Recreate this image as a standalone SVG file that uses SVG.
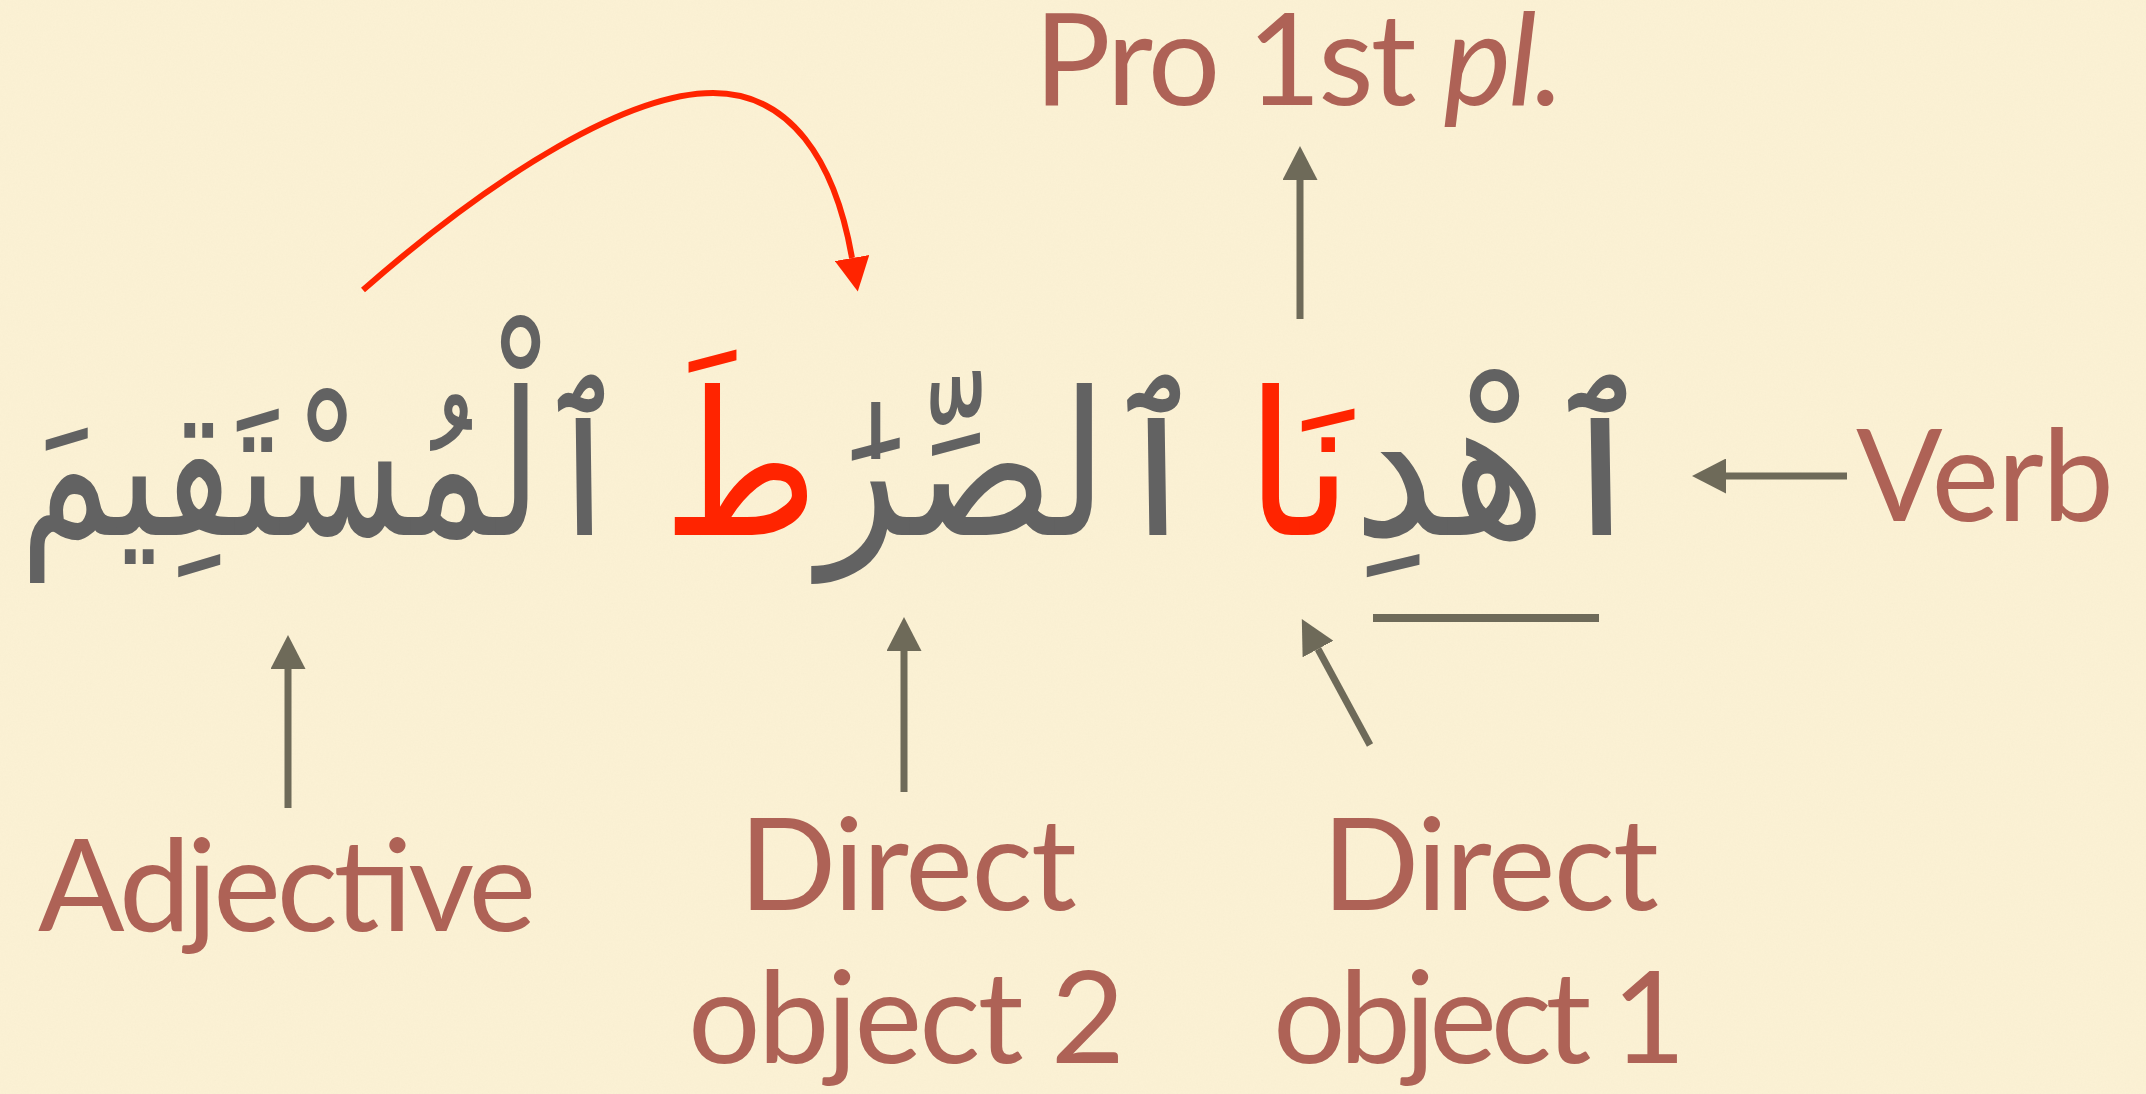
<svg xmlns="http://www.w3.org/2000/svg" width="2146" height="1094" viewBox="0 0 2146 1094">
<style>
.lbl{font-family:Lato,"Open Sans","Liberation Sans",sans-serif;font-size:128px;fill:#AE6256}
.ar{font-family:"DejaVu Sans",sans-serif;font-size:200px;fill:#626262}
.red{fill:#FF2400}
.g{stroke:#6E6A59;stroke-width:7;fill:none}
.r{stroke:#FF2400;stroke-width:6;fill:none}
</style>
<defs>
<marker id="ah" markerUnits="userSpaceOnUse" markerWidth="34" markerHeight="35" refX="0" refY="17.5" orient="auto"><path d="M0,0 L34,17.5 L0,35 z" fill="#6E6A59"/></marker>
<marker id="ahr" markerUnits="userSpaceOnUse" markerWidth="34" markerHeight="35" refX="0" refY="17.5" orient="auto"><path d="M0,0 L34,17.5 L0,35 z" fill="#FF2400"/></marker>
<filter id="paper" x="0" y="0" width="100%" height="100%">
<feTurbulence type="fractalNoise" baseFrequency="0.6" numOctaves="3" seed="4" result="n"/>
<feColorMatrix in="n" type="matrix" values="0 0 0 0 0.75  0 0 0 0 0.68  0 0 0 0 0.5  0 0 0 0.35 -0.1"/>
</filter>
</defs>
<rect width="2146" height="1094" fill="#FBF1D4"/>
<rect width="2146" height="1094" filter="url(#paper)" opacity="0.35"/>
<g id="word-ihdina"><text class="ar" x="1655" y="535" text-anchor="end" textLength="410" lengthAdjust="spacingAndGlyphs">ٱهْدِ<tspan class="red">نَا</tspan></text></g>
<g id="word-sirat"><text class="ar" x="1206" y="535" text-anchor="end" textLength="543" lengthAdjust="spacingAndGlyphs">ٱلصِّرَٰ<tspan class="red">طَ</tspan></text></g>
<g id="word-mustaqim"><text class="ar" x="627" y="535" text-anchor="end" textLength="607" lengthAdjust="spacingAndGlyphs">ٱلْمُسْتَقِيمَ</text></g>
<g id="lbl-pro"><text class="lbl" x="1034" y="105" textLength="530">Pro 1st <tspan font-style="italic">pl.</tspan></text></g>
<g id="lbl-verb"><text class="lbl" x="1856" y="521" textLength="258">Verb</text></g>
<g id="lbl-adj"><text class="lbl" x="38" y="931" textLength="498">Adjective</text></g>
<g id="lbl-do2"><text class="lbl" x="739" y="910" textLength="338">Direct</text><text class="lbl" x="688" y="1063" textLength="437">object 2</text></g>
<g id="lbl-do1"><text class="lbl" x="1322" y="910" textLength="337">Direct</text><text class="lbl" x="1273" y="1063" textLength="413">object 1</text></g>
<line id="underline" x1="1373" y1="618" x2="1599" y2="618" stroke="#6E6A59" stroke-width="8"/>
<g id="connectors">
<line class="g" x1="1300" y1="319" x2="1300" y2="180" marker-end="url(#ah)"/>
<line class="g" x1="1847" y1="476" x2="1726" y2="476" marker-end="url(#ah)"/>
<line class="g" x1="288" y1="808" x2="288" y2="669" marker-end="url(#ah)"/>
<line class="g" x1="904" y1="792" x2="904" y2="651" marker-end="url(#ah)"/>
<line class="g" x1="1370" y1="745" x2="1318" y2="649" marker-end="url(#ah)"/>
<path class="r" d="M363,290 C500,170 630,93 713,93 C790,93 835,160 852,258" marker-end="url(#ahr)"/>
</g>
</svg>
